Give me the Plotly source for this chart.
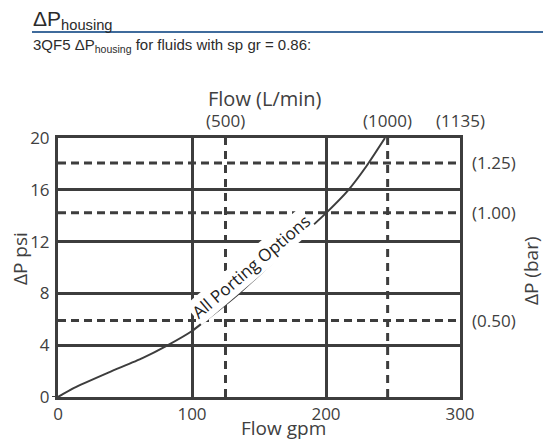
import plotly.graph_objects as go

# ---- data ----
flow_gpm = [0, 12, 38, 63, 81, 100, 110, 134, 176, 200, 216, 230, 244]
dp_psi = [0, 0.7, 1.9, 3.0, 3.95, 5.1, 5.9, 7.9, 11.9, 14.2, 15.9, 17.8, 20]

x_ticks = [0, 100, 200, 300]
y_ticks = [0, 4, 8, 12, 16, 20]

lpm_pos_gpm = [125, 246, 300]          # top axis (L/min) marks, in gpm
lpm_labels = ["(500)", "(1000)", "(1135)"]
lpm_dashed = [125, 246]                 # dashed verticals

bar_pos_psi = [18.07, 14.23, 5.9]       # right axis (bar) marks, in psi
bar_labels = ["(1.25)", "(1.00)", "(0.50)"]

curve_label = "All Porting Options"
curve_label_pos = (143.9, 10.06)

# ---- layout geometry ----
W, H = 543, 440
L, R, T, B = 58, 83, 138, 43
PW, PH = W - L - R, H - T - B
def px(xp):
    return (xp - L) / PW
def py(yp):
    return (H - B - yp) / PH

INK = "#3d3d3d"
TXT = "#404040"
FONT = "Open Sans"

fig = go.Figure()
fig.add_trace(go.Scatter(x=flow_gpm, y=dp_psi, mode="lines",
                         line=dict(color=INK, width=2, shape="spline", smoothing=0.6),
                         hoverinfo="skip", showlegend=False))

shapes = []
for xv in lpm_dashed:
    shapes.append(dict(type="line", xref="x", yref="y", x0=xv, x1=xv, y0=0, y1=20,
                       line=dict(color=INK, width=3, dash="8px,6px"), layer="below"))
for yv in bar_pos_psi:
    shapes.append(dict(type="line", xref="x", yref="y", x0=0, x1=300, y0=yv, y1=yv,
                       line=dict(color=INK, width=3, dash="8px,5px"), layer="below"))
# zero tick mark
shapes.append(dict(type="line", xref="paper", yref="y", x0=px(52), x1=0, y0=0, y1=0,
                   line=dict(color=INK, width=2)))
# header rule
shapes.append(dict(type="line", xref="paper", yref="paper", x0=px(32), x1=px(543),
                   y0=py(32), y1=py(32), line=dict(color="#3f6b9c", width=2)))

def A(**kw):
    d = dict(showarrow=False, xanchor="center", yanchor="middle")
    d.update(kw)
    return d

ann = []
for xv, t in zip(lpm_pos_gpm, lpm_labels):
    ann.append(A(x=xv, y=py(121), xref="x", yref="paper", text=t,
                 font=dict(family=FONT, size=17, color=TXT)))
for yv, t in zip(bar_pos_psi, bar_labels):
    ann.append(A(x=px(470), y=yv, xref="paper", yref="y", text=t, xanchor="left",
                 font=dict(family=FONT, size=17, color=TXT)))
ann.append(A(x=curve_label_pos[0], y=curve_label_pos[1], xref="x", yref="y", text=curve_label,
             textangle=-40.5, bgcolor="white", borderpad=1,
             font=dict(family=FONT, size=17, color="#222")))
ann.append(A(x=px(265), y=py(98), xref="paper", yref="paper", text="Flow (L/min)",
             font=dict(family=FONT, size=20, color=TXT)))
ann.append(A(x=px(283), y=py(428), xref="paper", yref="paper", text="Flow gpm",
             font=dict(family=FONT, size=19, color=TXT)))
ann.append(A(x=px(20), y=py(259), xref="paper", yref="paper", text="ΔP psi",
             textangle=-90, font=dict(family=FONT, size=19, color=TXT)))
ann.append(A(x=px(531), y=py(271), xref="paper", yref="paper", text="ΔP (bar)",
             textangle=-90, font=dict(family=FONT, size=19, color=TXT)))
ann.append(A(x=px(31), y=py(20), xref="paper", yref="paper", text="ΔP<sub>housing</sub>",
             xanchor="left", font=dict(family="Liberation Sans", size=21, color="#2b2b2b")))
ann.append(A(x=px(31), y=py(45), xref="paper", yref="paper",
             text="3QF5 ΔP<sub>housing</sub> for fluids with sp gr = 0.86:", xanchor="left",
             font=dict(family="Liberation Sans", size=15, color="#2b2b2b")))

fig.update_layout(
    width=W, height=H, margin=dict(l=L, r=R, t=T, b=B, autoexpand=False),
    paper_bgcolor="white", plot_bgcolor="white",
    shapes=shapes, annotations=ann, showlegend=False,
    xaxis=dict(range=[0, 300], tickvals=x_ticks, showgrid=True, gridcolor=INK, gridwidth=3,
               showline=True, mirror=True, linecolor=INK, linewidth=3, zeroline=False,
               ticks="",
               tickfont=dict(family=FONT, size=17, color=TXT), fixedrange=True),
    yaxis=dict(range=[0, 20], tickvals=y_ticks, showgrid=True, gridcolor=INK, gridwidth=3,
               showline=True, mirror=True, linecolor=INK, linewidth=3, zeroline=False,
               ticks="outside", ticklen=2, tickcolor="rgba(0,0,0,0)",
               tickfont=dict(family=FONT, size=17, color=TXT), fixedrange=True),
)

fig.write_html("out.html", config={"displayModeBar": False},
               post_script="document.body.style.margin='0';document.body.style.padding='0';")
